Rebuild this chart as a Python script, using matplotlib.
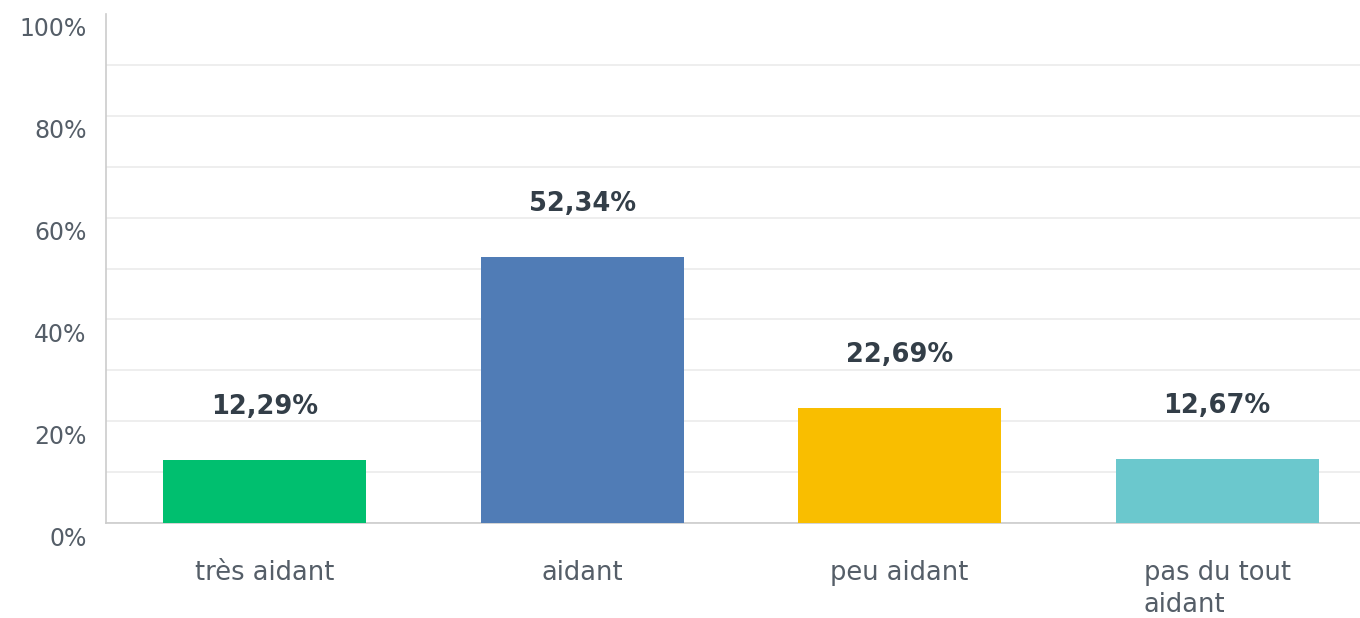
import matplotlib
matplotlib.use("Agg")
import matplotlib.pyplot as plt
from matplotlib.transforms import ScaledTranslation

categories = ["très aidant", "aidant", "peu aidant", "pas du tout\naidant"]
values = [12.29, 52.34, 22.69, 12.67]
value_labels = ["12,29%", "52,34%", "22,69%", "12,67%"]
colors = ["#00BF6F", "#507CB6", "#F9BE00", "#6BC8CD"]
y_ticks = [0, 20, 40, 60, 80, 100]
y_tick_labels = ["0%", "20%", "40%", "60%", "80%", "100%"]
y_minor = [10, 30, 50, 70, 90]

plt.rcParams['font.family'] = ['DejaVu Sans']

fig = plt.figure(figsize=(13.6, 6.18), dpi=100)
ax = fig.add_axes([106/1360, 1 - 523/618, 1 - 106/1360, (523 - 14)/618])

x = list(range(len(categories)))
ax.bar(x, values, width=0.64, color=colors, zorder=3)

for xi, v, lab in zip(x, values, value_labels):
    ax.annotate(lab, (xi, v), xytext=(0, 53), textcoords='offset pixels',
                ha='center', va='center', fontsize=18.5, fontweight='bold',
                color='#333e48')

ax.set_xlim(-0.5, 3.45)
ax.set_ylim(0, 100)
ax.set_yticks(y_ticks)
ax.set_yticklabels(y_tick_labels)
ax.set_yticks(y_minor, minor=True)
ax.set_xticks(x)
ax.set_xticklabels(categories, multialignment='left', linespacing=1.3)

ax.grid(axis='y', which='both', color='#ebebeb', linewidth=1.2, zorder=0)
ax.yaxis.get_gridlines()[-1].set_visible(False)
ax.set_axisbelow(True)

ax.tick_params(axis='y', which='both', length=0, pad=14, labelsize=17, labelcolor='#555e68')
ax.tick_params(axis='x', length=0, pad=27, labelsize=18.5, labelcolor='#555e68')

offset = ScaledTranslation(0, -13/100, fig.dpi_scale_trans)
for lbl in ax.get_yticklabels():
    lbl.set_transform(lbl.get_transform() + offset)

for s in ['top', 'right']:
    ax.spines[s].set_visible(False)
for s in ['left', 'bottom']:
    ax.spines[s].set_color('#cccccc')
    ax.spines[s].set_linewidth(1.2)

fig.savefig("out.png", dpi=100)
